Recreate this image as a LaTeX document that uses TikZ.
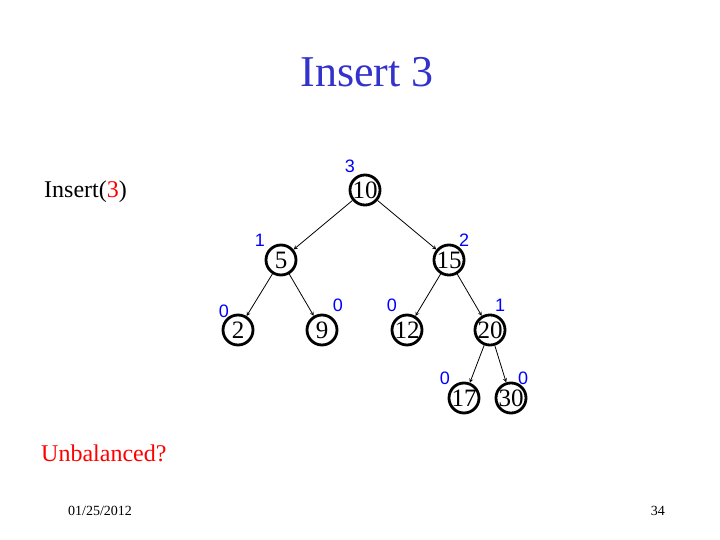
\documentclass[tikz,border=0pt]{standalone}
\usepackage{fontspec}
\setmainfont{Liberation Serif}
\newfontfamily\htfont{Liberation Sans}
\usepackage{tikz}
\tikzset{> = stealth}
\tikzset{
  avl/.style = {circle, draw, line width=2.8pt, minimum size=30pt, inner sep=0pt, font=\fontsize{25}{25}\selectfont},
  ht/.style = {text=blue, inner sep=0pt, font=\htfont\fontsize{18}{18}\selectfont}
}

\begin{document}
\begin{tikzpicture}[x=1pt, y=-1pt]
\useasboundingbox (0,0) rectangle (720,540);
% texts
\node[anchor=base, text={rgb,255:red,51;green,51;blue,204}, font=\fontsize{44}{44}\selectfont] (title) at (367, 87) {Insert 3};
\node[anchor=base west, font=\fontsize{24}{24}\selectfont, inner sep=0pt] (ins) at (44, 198) {Insert(\textcolor{red}{3})};
\node[anchor=base west, text=red, font=\fontsize{24}{24}\selectfont, inner sep=0pt] (unb) at (41, 461) {Unbalanced?};
\node[anchor=base west, font=\fontsize{14}{14}\selectfont, inner sep=0pt] (date) at (68, 515) {01/25/2012};
\node[anchor=base east, font=\fontsize{14}{14}\selectfont, inner sep=0pt] (page) at (665, 515) {34};
% nodes
\node[avl] (n10) at (365, 190) {10};
\node[avl] (n5)  at (281, 260) {5};
\node[avl] (n15) at (449, 260) {15};
\node[avl] (n2)  at (238, 330) {2};
\node[avl] (n9)  at (322, 330) {9};
\node[avl] (n12) at (407, 330) {12};
\node[avl] (n20) at (490, 330) {20};
\node[avl] (n17) at (464, 398) {17};
\node[avl] (n30) at (511, 398) {30};
% heights
\node[ht] (h10) at (350, 166) {3};
\node[ht] (h5)  at (260, 240) {1};
\node[ht] (h15) at (464, 240) {2};
\node[ht] (h2)  at (224, 311) {0};
\node[ht] (h9)  at (338, 305) {0};
\node[ht] (h12) at (392, 305) {0};
\node[ht] (h20) at (500, 305) {1};
\node[ht] (h17) at (445, 378) {0};
\node[ht] (h30) at (523, 378) {0};
% edges
\draw[->, line width=0.8pt]
(n10) edge (n5)
(n10) edge (n15)
(n5)  edge (n2)
(n5)  edge (n9)
(n15) edge (n12)
(n15) edge (n20)
(n20) edge (n17)
(n20) edge (n30);

\end{tikzpicture}
\end{document}
